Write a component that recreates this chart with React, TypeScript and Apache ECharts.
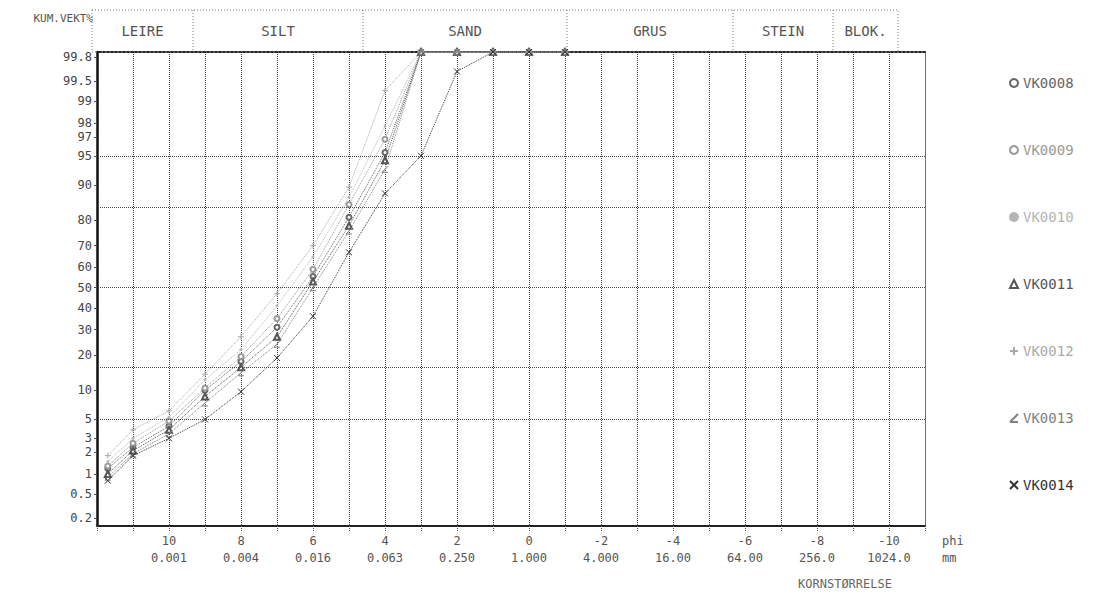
import React, { useEffect, useRef } from "react";
import * as echarts from "echarts";

// ---- data ----
const seriesNames = ["VK0008", "VK0009", "VK0010", "VK0011", "VK0012", "VK0013", "VK0014"];
const phiPoints = [11.7, 11, 10, 9, 8, 7, 6, 5, 4, 3, 2, 1, 0, -1];
const vk0008 = [1.2, 2.3, 4.2, 10, 17.8, 31, 55.5, 81, 95.4, 100, 100, 100, 100, 100];
const vk0009 = [1.3, 2.6, 4.8, 10.5, 19.5, 35, 59, 85, 96.8, 100, 100, 100, 100, 100];
const vk0010 = [1.5, 3.0, 5.3, 12.5, 22, 41, 65, 87, 97.8, 100, 100, 100, 100, 100];
const vk0011 = [1.0, 2.1, 3.8, 8.7, 16, 27, 53, 78, 94.4, 100, 100, 100, 100, 100];
const vk0012 = [1.8, 3.8, 6.2, 14, 27, 47, 70, 89.5, 99.3, 100, 100, 100, 100, 100];
const vk0013 = [0.9, 1.9, 3.4, 7.5, 14.4, 24, 50, 76, 93, 100, 100, 100, 100, 100];
const vk0014 = [0.8, 1.8, 3.0, 5, 9.7, 19, 36, 67, 88, 95, 99.65, 100, 100, 100];
const seriesValues = [vk0008, vk0009, vk0010, vk0011, vk0012, vk0013, vk0014];

const yTickLabels = ["99.8", "99.5", "99", "98", "97", "95", "90", "80", "70", "60", "50", "40", "30", "20", "10", "5", "3", "2", "1", "0.5", "0.2"];
const gridPercents = [95, 84.13, 50, 15.87, 5];
const phiTickLabels = [10, 8, 6, 4, 2, 0, -2, -4, -6, -8, -10];
const mmTickLabels = ["0.001", "0.004", "0.016", "0.063", "0.250", "1.000", "4.000", "16.00", "64.00", "256.0", "1024.0"];
const classNames = ["LEIRE", "SILT", "SAND", "GRUS", "STEIN", "BLOK."];

// ---- styling / layout ----
const colors = ["#666", "#999", "#b5b5b5", "#555", "#aaa", "#808080", "#333"];
const symbols = [
  "emptyCircle",
  "emptyCircle",
  "circle",
  "emptyTriangle",
  "path://M5,0L5,10M0,5L10,5",
  "path://M0,10L10,0M0,10L10,10",
  "path://M0,0L10,10M10,0L0,10",
];
const symbolSizes = [5, 5, 2, 6, 6, 6, 6];
const headerEdges = [92, 193, 363, 567, 733, 833, 898];
const FONT = "'DejaVu Sans Mono', monospace";
const YMIN = -2.975;
const YMAX = 2.94;

function probit(p: number): number {
  const a = [-3.969683028665376e1, 2.209460984245205e2, -2.759285104469687e2, 1.38357751867269e2, -3.066479806614716e1, 2.506628277459239];
  const b = [-5.447609879822406e1, 1.615858368580409e2, -1.556989798598866e2, 6.680131188771972e1, -1.328068155288572e1];
  const c = [-7.784894002430293e-3, -3.223964580411365e-1, -2.400758277161838, -2.549732539343734, 4.374664141464968, 2.938163982698783];
  const d = [7.784695709041462e-3, 3.224671290700398e-1, 2.445134137142996, 3.754408661907416];
  const plow = 0.02425;
  if (p <= 0) return -Infinity;
  if (p >= 1) return Infinity;
  if (p < plow) {
    const q = Math.sqrt(-2 * Math.log(p));
    return (((((c[0] * q + c[1]) * q + c[2]) * q + c[3]) * q + c[4]) * q + c[5]) / ((((d[0] * q + d[1]) * q + d[2]) * q + d[3]) * q + 1);
  }
  if (p <= 1 - plow) {
    const q = p - 0.5;
    const r = q * q;
    return ((((((a[0] * r + a[1]) * r + a[2]) * r + a[3]) * r + a[4]) * r + a[5]) * q) / (((((b[0] * r + b[1]) * r + b[2]) * r + b[3]) * r + b[4]) * r + 1);
  }
  const q = Math.sqrt(-2 * Math.log(1 - p));
  return -(((((c[0] * q + c[1]) * q + c[2]) * q + c[3]) * q + c[4]) * q + c[5]) / ((((d[0] * q + d[1]) * q + d[2]) * q + d[3]) * q + 1);
}

const toZ = (pct: number) => Math.max(YMIN, Math.min(YMAX, probit(pct / 100)));

export default function App() {
  const ref = useRef<HTMLDivElement>(null);
  useEffect(() => {
    if (!ref.current) return;
    const chart = echarts.init(ref.current, null, { renderer: "svg" });
    const yCustom = yTickLabels.map((l) => probit(parseFloat(l) / 100));

    const series: any[] = seriesNames.map((name, i) => ({
      name,
      type: "line",
      data: phiPoints.map((phi, j) => [phi, toZ(seriesValues[i][j])]),
      symbol: symbols[i],
      symbolSize: symbolSizes[i],
      color: colors[i],
      lineStyle: { color: colors[i], width: 1, type: "dotted" },
      itemStyle: { color: colors[i], borderColor: colors[i], borderWidth: 1 },
      z: 3,
    }));
    series[0].markLine = {
      silent: true,
      symbol: "none",
      label: { show: false },
      lineStyle: { color: "#444", type: "dotted", width: 1 },
      data: gridPercents.map((p) => ({ yAxis: probit(p / 100) })),
    };

    const headerGraphics: any[] = [
      {
        type: "rect",
        shape: { x: headerEdges[0], y: 10, width: headerEdges[6] - headerEdges[0], height: 42 },
        style: { fill: "none", stroke: "#777", lineWidth: 1, lineDash: [1, 2] },
      },
    ];
    for (let i = 1; i < headerEdges.length - 1; i++) {
      headerGraphics.push({
        type: "line",
        shape: { x1: headerEdges[i], y1: 10, x2: headerEdges[i], y2: 52 },
        style: { stroke: "#777", lineWidth: 1, lineDash: [1, 2] },
      });
    }
    classNames.forEach((n, i) => {
      headerGraphics.push({
        type: "text",
        x: (headerEdges[i] + headerEdges[i + 1]) / 2,
        y: 31,
        style: { text: n, font: `14px ${FONT}`, fill: "#555", align: "center", verticalAlign: "middle" },
      });
    });
    headerGraphics.push({
      type: "text",
      x: 845,
      y: 584,
      style: { text: "KORNSTØRRELSE", font: `12px ${FONT}`, fill: "#666", align: "center", verticalAlign: "middle" },
    });

    chart.setOption({
      animation: false,
      backgroundColor: "#fff",
      textStyle: { fontFamily: FONT },
      grid: { left: 97, right: 187, top: 52, bottom: 73 },
      legend: {
        orient: "vertical",
        left: 1004,
        top: 71,
        itemGap: 53,
        itemWidth: 8,
        itemHeight: 8,
        textStyle: { fontFamily: FONT, fontSize: 14 },
        data: seriesNames.map((n, i) => ({ name: n, icon: symbols[i], textStyle: { color: colors[i] } })),
      },
      xAxis: [
        {
          type: "value",
          min: -11,
          max: 12,
          interval: 1,
          inverse: true,
          name: "phi\nmm",
          nameLocation: "start",
          nameGap: 17,
          nameTextStyle: { color: "#555", fontSize: 12, fontFamily: FONT, align: "left", verticalAlign: "top", lineHeight: 17, padding: [6, 0, 0, 0] },
          axisLine: { onZero: false, lineStyle: { color: "#222", width: 2 } },
          axisTick: { show: true, length: 6, interval: 0, lineStyle: { color: "#555", type: "dotted" } },
          axisLabel: {
            interval: 0,
            margin: 6,
            color: "#555",
            fontSize: 12,
            fontFamily: FONT,
            lineHeight: 17,
            formatter: (v: number) => {
              const k = phiTickLabels.indexOf(Math.round(v));
              if (k < 0 || Math.abs(v - Math.round(v)) > 1e-6) return "";
              return `${phiTickLabels[k]}\n${mmTickLabels[k]}`;
            },
          },
          splitLine: { show: true, interval: 0, lineStyle: { color: "#444", type: "dotted", width: 1 } },
        },
        {
          type: "value",
          position: "top",
          min: -11,
          max: 12,
          inverse: true,
          axisLine: { onZero: false, lineStyle: { color: "#222", width: 2, type: "dotted" } },
          axisTick: { show: false },
          axisLabel: { show: false },
          splitLine: { show: false },
        },
      ],
      yAxis: [
        {
          type: "value",
          min: YMIN,
          max: YMAX,
          name: "KUM.VEKT%",
          nameLocation: "end",
          nameGap: 34,
          nameTextStyle: { color: "#555", fontSize: 11, fontFamily: FONT, align: "right", verticalAlign: "middle", padding: [0, 4, 0, 0] },
          axisLine: { show: true, onZero: false, lineStyle: { color: "#111", width: 2.5 } },
          axisTick: { show: true, length: 3, customValues: yCustom, lineStyle: { color: "#555" } },
          axisLabel: {
            customValues: yCustom,
            margin: 5,
            color: "#444",
            fontSize: 12,
            fontFamily: FONT,
            formatter: (v: number) => {
              let best = 0;
              let bd = Infinity;
              yCustom.forEach((z, k) => {
                const dd = Math.abs(z - v);
                if (dd < bd) {
                  bd = dd;
                  best = k;
                }
              });
              return yTickLabels[best];
            },
          },
          splitLine: { show: false },
        },
        {
          type: "value",
          position: "right",
          min: YMIN,
          max: YMAX,
          axisLine: { show: true, onZero: false, lineStyle: { color: "#777", width: 1, type: "dotted" } },
          axisTick: { show: false },
          axisLabel: { show: false },
          splitLine: { show: false },
        },
      ],
      graphic: headerGraphics,
      series,
    });
    return () => chart.dispose();
  }, []);
  return <div ref={ref} style={{ position: "absolute", left: 0, top: 0, width: 1112, height: 599 }} />;
}
